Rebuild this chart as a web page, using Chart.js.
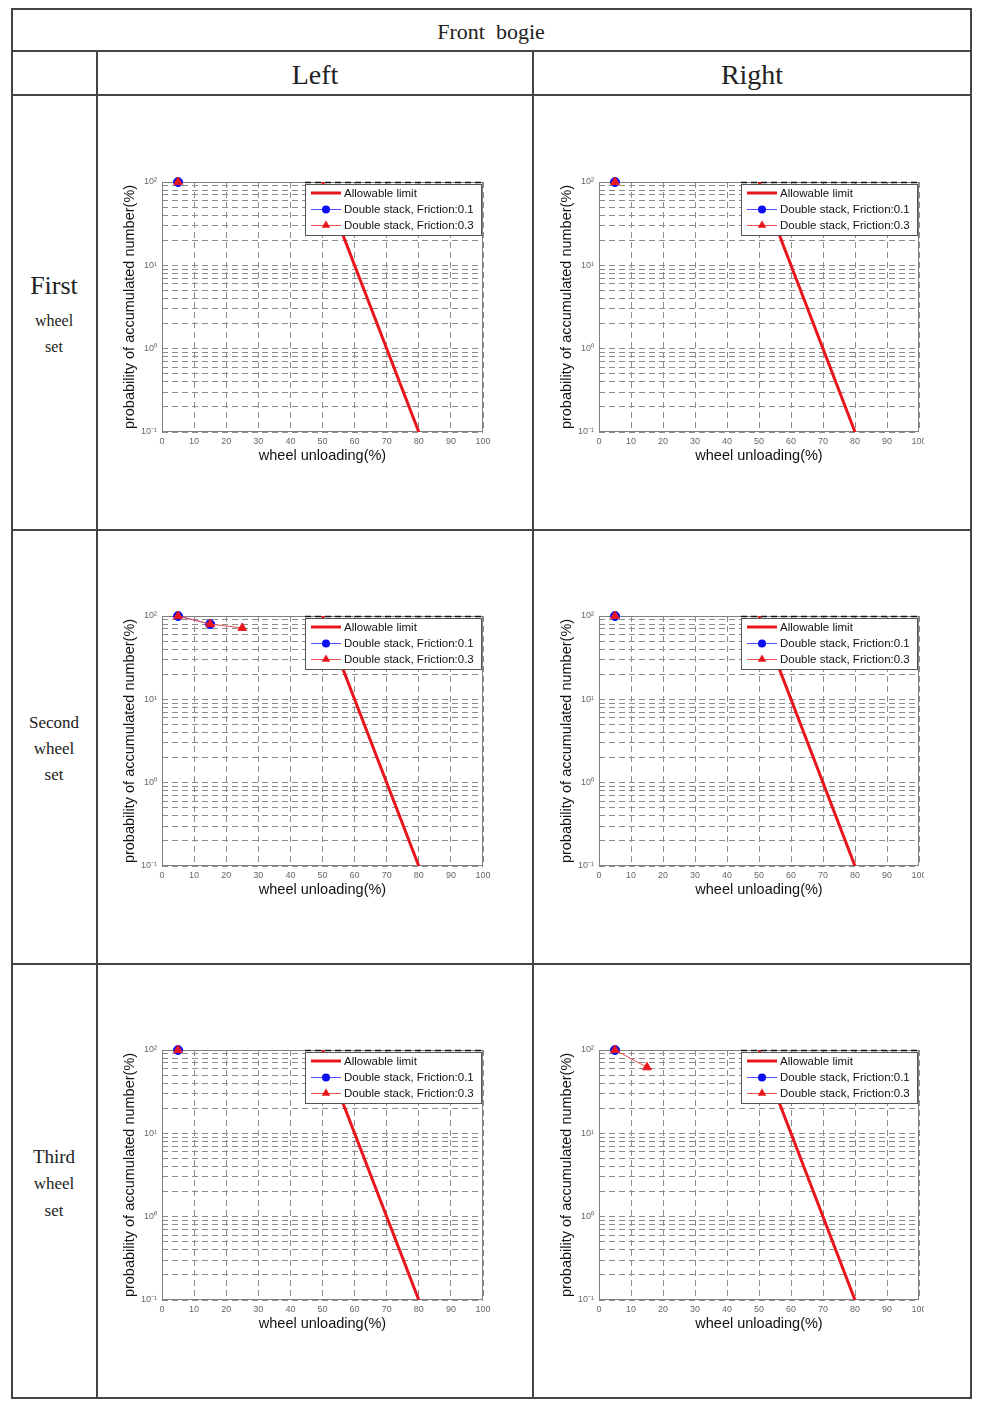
<!DOCTYPE html>
<html lang="en">
<head>
<meta charset="UTF-8">
<title>Front bogie - wheel unloading</title>
<script src="https://cdn.jsdelivr.net/npm/chart.js"></script>
<style>
    body {
        margin: 0;
        background: #fff;
        width: 983px;
        height: 1412px;
        position: relative;
        font-family: "Liberation Serif", serif;
        overflow: hidden;
    }
    .line { position: absolute; background: #444; }
    .txt {
        position: absolute;
        transform: translate(-50%, -50%);
        white-space: nowrap;
        color: #222;
        line-height: 1;
    }
    .cell { position: absolute; overflow: hidden; height: 310px; }
    canvas { position: absolute; left: 0; top: 0; }
</style>
</head>
<body>
<!-- table frame -->
<div class="line" style="left:11px;top:8px;width:961px;height:2px"></div>
<div class="line" style="left:11px;top:1397px;width:961px;height:2px"></div>
<div class="line" style="left:11px;top:8px;width:2px;height:1391px"></div>
<div class="line" style="left:970px;top:8px;width:2px;height:1391px"></div>
<div class="line" style="left:11px;top:50px;width:961px;height:2px"></div>
<div class="line" style="left:11px;top:94px;width:961px;height:2px"></div>
<div class="line" style="left:11px;top:529px;width:961px;height:2px"></div>
<div class="line" style="left:11px;top:963px;width:961px;height:2px"></div>
<div class="line" style="left:96px;top:51px;width:2px;height:1347px"></div>
<div class="line" style="left:532px;top:51px;width:2px;height:1347px"></div>

<div class="txt" style="left:491px;top:32px;font-size:22px">Front&nbsp; bogie</div>
<div class="txt" style="left:315px;top:75px;font-size:28px">Left</div>
<div class="txt" style="left:752px;top:75px;font-size:28px">Right</div>

<div class="txt" style="left:54px;top:286px;font-size:26px">First</div>
<div class="txt" style="left:54px;top:321px;font-size:16px">wheel</div>
<div class="txt" style="left:54px;top:347px;font-size:16px">set</div>

<div class="txt" style="left:54px;top:722px;font-size:17px">Second</div>
<div class="txt" style="left:54px;top:748px;font-size:17px">wheel</div>
<div class="txt" style="left:54px;top:774px;font-size:17px">set</div>

<div class="txt" style="left:54px;top:1156px;font-size:19px">Third</div>
<div class="txt" style="left:54px;top:1183px;font-size:17px">wheel</div>
<div class="txt" style="left:54px;top:1210px;font-size:17px">set</div>

<div class="cell" style="left:112px;top:164px;width:380px"><canvas id="c11" width="380" height="310"></canvas></div>
<div class="cell" style="left:549px;top:164px;width:375px"><canvas id="c12" width="380" height="310"></canvas></div>
<div class="cell" style="left:112px;top:598px;width:380px"><canvas id="c21" width="380" height="310"></canvas></div>
<div class="cell" style="left:549px;top:598px;width:375px"><canvas id="c22" width="380" height="310"></canvas></div>
<div class="cell" style="left:112px;top:1032px;width:380px"><canvas id="c31" width="380" height="310"></canvas></div>
<div class="cell" style="left:549px;top:1032px;width:375px"><canvas id="c32" width="380" height="310"></canvas></div>

<script>
// wheel unloading (%) positions of the measured points
var wheelX = [5, 15, 25];

// probability of accumulated number (%) for each wheel set / side
var firstLeft01 = [100];
var firstLeft03 = [100];
var firstRight01 = [100];
var firstRight03 = [100];
var secondLeft01 = [100, 80];
var secondLeft03 = [100, 80, 72];
var secondRight01 = [100];
var secondRight03 = [100];
var thirdLeft01 = [100];
var thirdLeft03 = [100];
var thirdRight01 = [100];
var thirdRight03 = [100, 62];

// allowable limit line
var limitX = [50, 80];
var limitY = [100, 0.1];

var yTickValues = [0.1, 1, 10, 100];
var yTickLabels = ['10\u207B\u00B9', '10\u2070', '10\u00B9', '10\u00B2'];
var legendLabels = ['Allowable limit', 'Double stack, Friction:0.1', 'Double stack, Friction:0.3'];

var RED = '#e8161c';
var BLUE = '#0c0cf5';
var GRID = '#8c8c8c';

Chart.defaults.font.family = '"Liberation Sans", Arial, sans-serif';

// gridlines at every 1..9 step of each decade
var yGrid = [];
[0.1, 1, 10].forEach(function (d) {
    for (var k = 1; k <= 9; k++) yGrid.push(k === 1 ? d : d * k);
});
yGrid.push(100);

function toPoints(ys) {
    return ys.map(function (y, i) { return { x: wheelX[i], y: y }; });
}

function triangle(ctx, x, y, r) {
    ctx.beginPath();
    ctx.moveTo(x, y - r);
    ctx.lineTo(x + r * 0.95, y + r * 0.6);
    ctx.lineTo(x - r * 0.95, y + r * 0.6);
    ctx.closePath();
    ctx.fill();
}

// axes box, drawn over the grid
var boxPlugin = {
    id: 'axesBox',
    beforeDatasetsDraw: function (chart) {
        var a = chart.chartArea, ctx = chart.ctx;
        ctx.save();
        ctx.strokeStyle = '#808080';
        ctx.lineWidth = 1;
        ctx.strokeRect(a.left + 0.5, a.top + 0.5, a.right - a.left - 1, a.bottom - a.top - 1);
        ctx.restore();
    }
};

// matlab style legend inside the plot (top right)
var legendPlugin = {
    id: 'boxLegend',
    afterDatasetsDraw: function (chart) {
        var a = chart.chartArea, ctx = chart.ctx;
        var w = 176, h = 51;
        var bx = a.right - 178, by = a.top + 2;
        ctx.save();
        ctx.strokeStyle = '#111';
        ctx.lineWidth = 1.5;
        ctx.setLineDash([6, 4]);
        ctx.beginPath();
        ctx.moveTo(bx, a.top + 0.5);
        ctx.lineTo(a.right, a.top + 0.5);
        ctx.stroke();
        ctx.setLineDash([]);

        ctx.fillStyle = '#fff';
        ctx.fillRect(bx, by, w, h);
        ctx.strokeStyle = '#555';
        ctx.lineWidth = 1;
        ctx.strokeRect(bx + 0.5, by + 0.5, w, h);

        var rows = [by + 9, by + 25, by + 41];
        // allowable limit
        ctx.strokeStyle = RED;
        ctx.lineWidth = 3;
        ctx.beginPath();
        ctx.moveTo(bx + 6, rows[0]);
        ctx.lineTo(bx + 36, rows[0]);
        ctx.stroke();
        // friction 0.1
        ctx.strokeStyle = '#5050ff';
        ctx.lineWidth = 1;
        ctx.beginPath();
        ctx.moveTo(bx + 6, rows[1] + 0.5);
        ctx.lineTo(bx + 36, rows[1] + 0.5);
        ctx.stroke();
        ctx.fillStyle = BLUE;
        ctx.beginPath();
        ctx.arc(bx + 21, rows[1] + 0.5, 4, 0, Math.PI * 2);
        ctx.fill();
        // friction 0.3
        ctx.strokeStyle = '#f05050';
        ctx.beginPath();
        ctx.moveTo(bx + 6, rows[2] + 0.5);
        ctx.lineTo(bx + 36, rows[2] + 0.5);
        ctx.stroke();
        ctx.fillStyle = RED;
        triangle(ctx, bx + 21, rows[2], 4.5);

        ctx.fillStyle = '#111';
        ctx.font = '11.5px "Liberation Sans", Arial, sans-serif';
        ctx.textBaseline = 'middle';
        ctx.textAlign = 'left';
        for (var i = 0; i < 3; i++) ctx.fillText(legendLabels[i], bx + 39, rows[i] + 1);
        ctx.restore();
    }
};

function makeChart(id, f01, f03, rightPad) {
    var ctx = document.getElementById(id).getContext('2d');
    return new Chart(ctx, {
        type: 'line',
        data: {
            datasets: [
                {
                    label: legendLabels[0],
                    data: limitX.map(function (x, i) { return { x: x, y: limitY[i] }; }),
                    borderColor: RED,
                    borderWidth: 3,
                    pointRadius: 0,
                    order: 3
                },
                {
                    label: legendLabels[1],
                    data: toPoints(f01),
                    borderColor: '#5050ff',
                    borderWidth: 1,
                    pointStyle: 'circle',
                    pointRadius: 4.5,
                    pointBackgroundColor: BLUE,
                    pointBorderColor: BLUE,
                    clip: false,
                    order: 2
                },
                {
                    label: legendLabels[2],
                    data: toPoints(f03),
                    borderColor: '#f05050',
                    borderWidth: 1,
                    pointStyle: 'triangle',
                    pointRadius: 5,
                    pointBackgroundColor: RED,
                    pointBorderColor: RED,
                    clip: false,
                    order: 1
                }
            ]
        },
        options: {
            responsive: false,
            animation: false,
            layout: { padding: { left: 0, right: rightPad, top: 18, bottom: 0 } },
            plugins: { legend: { display: false }, tooltip: { enabled: false } },
            scales: {
                x: {
                    type: 'linear',
                    min: 0,
                    max: 100,
                    afterFit: function (s) {
                        s.height = 42;
                        s.paddingLeft = 0;
                        s.paddingRight = 0;
                    },
                    ticks: { stepSize: 10, color: '#666', font: { size: 9 }, padding: 4, maxRotation: 0 },
                    grid: { color: GRID, drawTicks: false },
                    border: { display: false, dash: [6, 4] },
                    title: {
                        display: true,
                        text: 'wheel unloading(%)',
                        color: '#111',
                        font: { size: 14.5 },
                        padding: { top: 0, bottom: 9 }
                    }
                },
                y: {
                    type: 'logarithmic',
                    min: 0.1,
                    max: 100,
                    afterFit: function (s) {
                        s.width = 50;
                        s.paddingTop = 0;
                        s.paddingBottom = 0;
                    },
                    afterBuildTicks: function (s) {
                        s.ticks = yGrid.map(function (v) { return { value: v }; });
                    },
                    ticks: {
                        autoSkip: false,
                        color: '#666',
                        font: { size: 9 },
                        padding: 5,
                        callback: function (v) {
                            var i = yTickValues.indexOf(v);
                            return i >= 0 ? yTickLabels[i] : '';
                        }
                    },
                    grid: { color: GRID, drawTicks: false },
                    border: { display: false, dash: [6, 4] },
                    title: {
                        display: true,
                        text: 'probability of accumulated number(%)',
                        color: '#111',
                        font: { size: 14.5 },
                        padding: { top: 9, bottom: 0 }
                    }
                }
            }
        },
        plugins: [boxPlugin, legendPlugin]
    });
}

makeChart('c11', firstLeft01, firstLeft03, 9);
makeChart('c12', firstRight01, firstRight03, 10);
makeChart('c21', secondLeft01, secondLeft03, 9);
makeChart('c22', secondRight01, secondRight03, 10);
makeChart('c31', thirdLeft01, thirdLeft03, 9);
makeChart('c32', thirdRight01, thirdRight03, 10);
</script>
</body>
</html>
